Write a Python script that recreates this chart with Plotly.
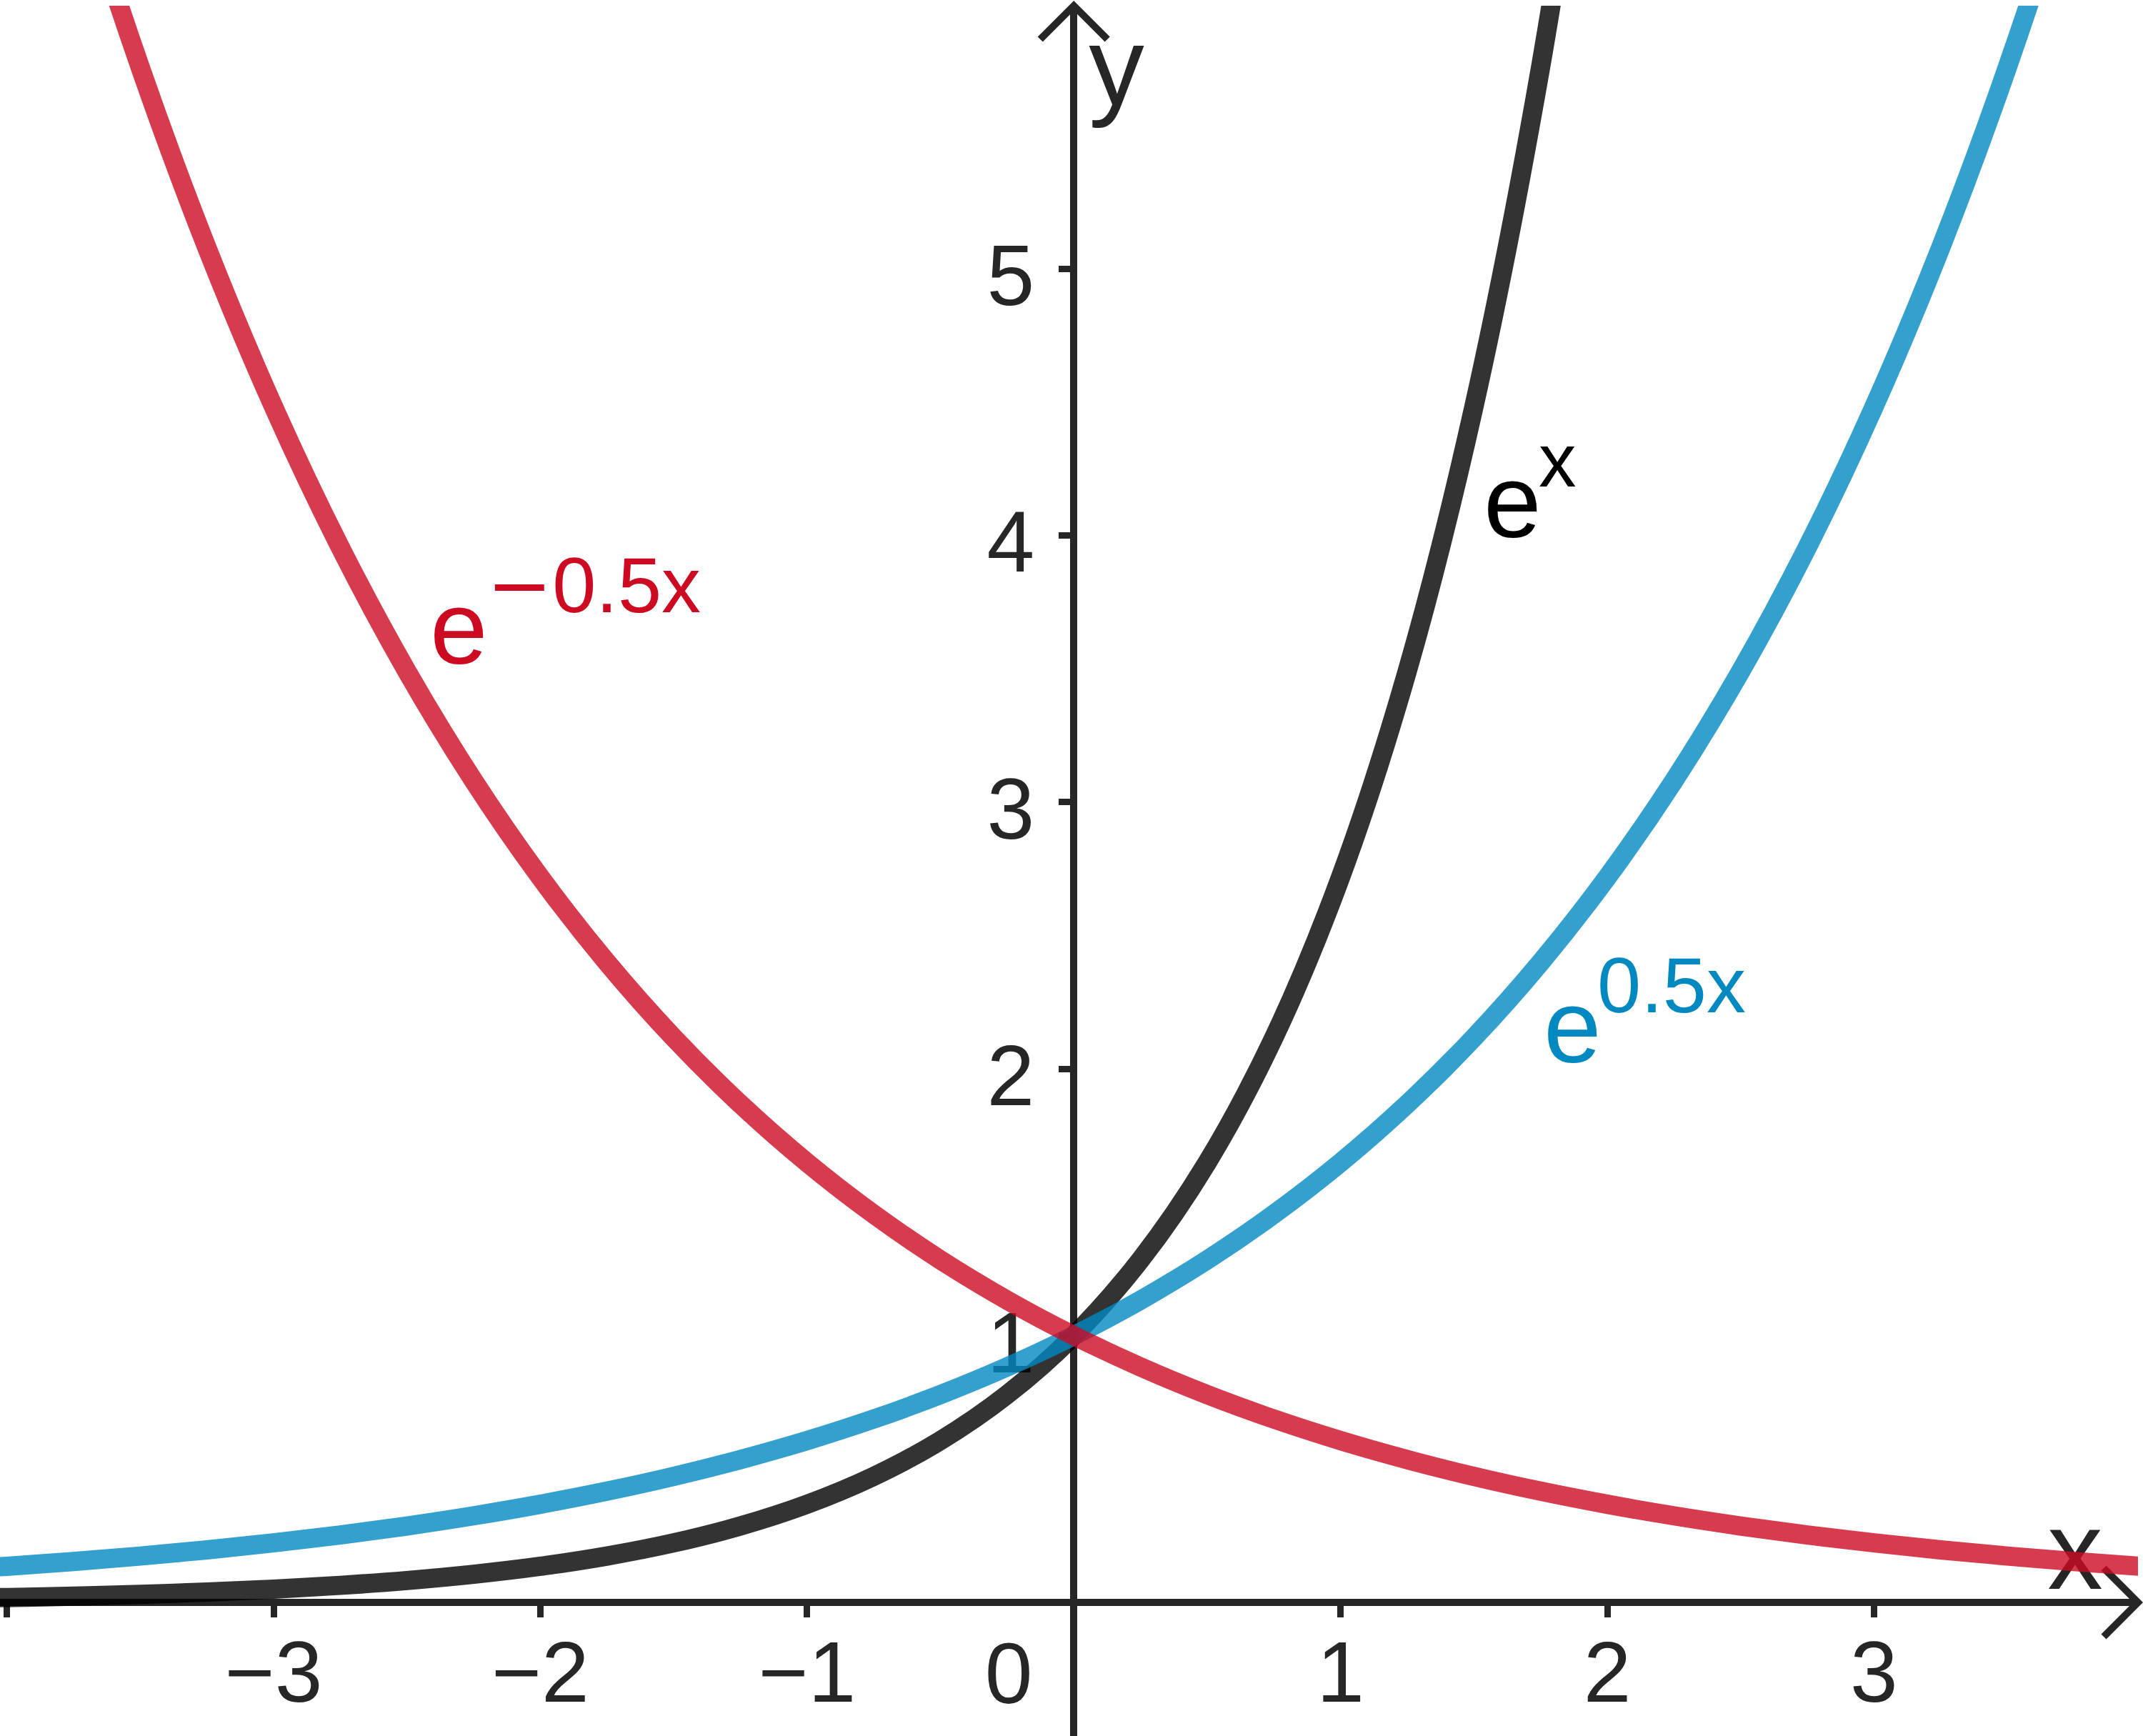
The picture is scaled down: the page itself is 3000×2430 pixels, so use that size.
import plotly.graph_objects as go

# ---------------- data ----------------
# black curve: e^x
x_exp = [-4.25, -4.0, -3.75, -3.5, -3.25, -3.0, -2.75, -2.5, -2.25, -2.0, -1.75, -1.5,
         -1.25, -1.0, -0.75, -0.5, -0.25, 0.0, 0.25, 0.5, 0.75, 1.0, 1.25, 1.5, 1.75, 2.0]
y_exp = [0.0143, 0.0183, 0.0235, 0.0302, 0.0388, 0.0498, 0.0639, 0.0821, 0.1054, 0.1353,
         0.1738, 0.2231, 0.2865, 0.3679, 0.4724, 0.6065, 0.7788, 1.0, 1.2840, 1.6487,
         2.1170, 2.7183, 3.4903, 4.4817, 5.7546, 7.3891]

# blue curve: e^(0.5x)
x_exp_half = [-4.25, -4.0, -3.75, -3.5, -3.25, -3.0, -2.75, -2.5, -2.25, -2.0, -1.75, -1.5,
              -1.25, -1.0, -0.75, -0.5, -0.25, 0.0, 0.25, 0.5, 0.75, 1.0, 1.25, 1.5, 1.75,
              2.0, 2.25, 2.5, 2.75, 3.0, 3.25, 3.5, 3.75, 4.0]
y_exp_half = [0.1194, 0.1353, 0.1534, 0.1738, 0.1969, 0.2231, 0.2528, 0.2865, 0.3247, 0.3679,
              0.4169, 0.4724, 0.5353, 0.6065, 0.6873, 0.7788, 0.8825, 1.0, 1.1331, 1.2840,
              1.4550, 1.6487, 1.8682, 2.1170, 2.3989, 2.7183, 3.0802, 3.4903, 3.9551, 4.4817,
              5.0784, 5.7546, 6.5208, 7.3891]

# red curve: e^(-0.5x)
x_exp_neg_half = [-4.0, -3.75, -3.5, -3.25, -3.0, -2.75, -2.5, -2.25, -2.0, -1.75, -1.5, -1.25,
                  -1.0, -0.75, -0.5, -0.25, 0.0, 0.25, 0.5, 0.75, 1.0, 1.25, 1.5, 1.75, 2.0,
                  2.25, 2.5, 2.75, 3.0, 3.25, 3.5, 3.75, 4.0, 4.25]
y_exp_neg_half = [7.3891, 6.5208, 5.7546, 5.0784, 4.4817, 3.9551, 3.4903, 3.0802, 2.7183, 2.3989,
                  2.1170, 1.8682, 1.6487, 1.4550, 1.2840, 1.1331, 1.0, 0.8825, 0.7788, 0.6873,
                  0.6065, 0.5353, 0.4724, 0.4169, 0.3679, 0.3247, 0.2865, 0.2528, 0.2231,
                  0.1969, 0.1738, 0.1534, 0.1353, 0.1194]

# ticks
x_tick_vals = [-4, -3, -2, -1, 0, 1, 2, 3]
x_tick_text = ["", "\u22123", "\u22122", "\u22121", "", "1", "2", "3"]
y_tick_vals = [1, 2, 3, 4, 5]
y_tick_text = ["1", "2", "3", "4", "5"]

# axis / origin labels
axis_label_text = ["x", "y", "0"]
axis_label_x = [3.754, 0.160, -0.244]
axis_label_y = [0.155, 5.717, -0.297]
axis_label_size = [155, 155, 120]

# curve labels (base, exponent)
label_base = ["e", "e", "e"]
label_exp = ["x", "0.5x", "<span style=\"font-family:'DejaVu Sans'\">\u2212</span>0.5x"]
label_colors = ["#000000", "#0088C0", "#CC0A22"]
label_base_pos = [(1.531, 3.904), (1.757, 1.936), (-2.419, 3.430)]
label_exp_pos = [(1.738, 4.119), (1.958, 2.145), (-2.207, 3.637)]
label_exp_size = [105, 110, 110]

# ---------------- layout geometry ----------------
W, H = 3000, 2430
ML, MR, MT, MB = 0, 7, 8, 0
UNIT = 373.4          # pixels per unit (both axes)
OX, OY = 1503.2, 2243  # origin in pixels

x_range = [-(OX - ML) / UNIT, (W - MR - OX) / UNIT]
y_range = [-(H - MB - OY) / UNIT, (OY - MT) / UNIT]
x_axis_pos = (0 - y_range[0]) / (y_range[1] - y_range[0])
y_axis_pos = (0 - x_range[0]) / (x_range[1] - x_range[0])

AX = "#262626"
FONT = "Liberation Sans, Arial, Helvetica, sans-serif"

fig = go.Figure()

# labels that sit under the curves
fig.add_trace(go.Scatter(
    x=axis_label_x, y=axis_label_y, text=axis_label_text, mode="text",
    textposition="middle center",
    textfont=dict(family=FONT, size=axis_label_size, color=AX),
    hoverinfo="skip", showlegend=False, cliponaxis=False))

fig.add_trace(go.Scatter(x=x_exp, y=y_exp, mode="lines", line_shape="spline",
                         line=dict(color="rgba(0,0,0,0.8)", width=27),
                         hoverinfo="skip", showlegend=False))
fig.add_trace(go.Scatter(x=x_exp_half, y=y_exp_half, mode="lines", line_shape="spline",
                         line=dict(color="rgba(0,136,192,0.8)", width=27),
                         hoverinfo="skip", showlegend=False))
fig.add_trace(go.Scatter(x=x_exp_neg_half, y=y_exp_neg_half, mode="lines", line_shape="spline",
                         line=dict(color="rgba(204,10,34,0.8)", width=27),
                         hoverinfo="skip", showlegend=False))

# curve labels
for b, e, c, bp, ep, es in zip(label_base, label_exp, label_colors, label_base_pos,
                               label_exp_pos, label_exp_size):
    fig.add_annotation(x=bp[0], y=bp[1], xref="x", yref="y", text=b, showarrow=False,
                       xanchor="left", yanchor="bottom",
                       font=dict(family=FONT, size=145, color=c))
    fig.add_annotation(x=ep[0], y=ep[1], xref="x", yref="y", text=e, showarrow=False,
                       xanchor="left", yanchor="bottom",
                       font=dict(family=FONT, size=es, color=c))

# arrow heads
fig.add_shape(type="path", xref="paper", yref="y", xsizemode="pixel", ysizemode="pixel",
              xanchor=1, yanchor=0, path="M -48,48 L 0,0 L -48,-48",
              line=dict(color=AX, width=10), layer="below")
fig.add_shape(type="path", xref="x", yref="paper", xsizemode="pixel", ysizemode="pixel",
              xanchor=0, yanchor=1, path="M -47,-47 L 0,0 L 47,-47",
              line=dict(color=AX, width=10), layer="below")

fig.update_layout(
    width=W, height=H,
    margin=dict(l=ML, r=MR, t=MT, b=MB, pad=0, autoexpand=False),
    paper_bgcolor="white", plot_bgcolor="white",
    showlegend=False,
    font=dict(family=FONT, color=AX),
    xaxis=dict(range=x_range, anchor="free", position=x_axis_pos,
               automargin=False,
               showgrid=False, zeroline=False,
               showline=True, linewidth=10, linecolor=AX,
               ticks="outside", ticklen=16, tickwidth=9, tickcolor=AX,
               tickvals=x_tick_vals, ticktext=x_tick_text,
               tickfont=dict(family=FONT, size=120, color=AX),
               ticklabelstandoff=-26,
               layer="below traces", fixedrange=True),
    yaxis=dict(range=y_range, anchor="free", position=y_axis_pos,
               automargin=False,
               showgrid=False, zeroline=False,
               showline=True, linewidth=10, linecolor=AX,
               ticks="outside", ticklen=16, tickwidth=9, tickcolor=AX,
               tickvals=y_tick_vals, ticktext=y_tick_text,
               tickfont=dict(family=FONT, size=120, color=AX),
               ticklabelstandoff=10, ticklabelshift=9,
               layer="below traces", fixedrange=True),
)

fig.write_html(
    "out.html",
    config={"displayModeBar": False, "staticPlot": True},
    post_script="document.body.style.margin='0px';document.body.style.overflow='hidden';",
)
